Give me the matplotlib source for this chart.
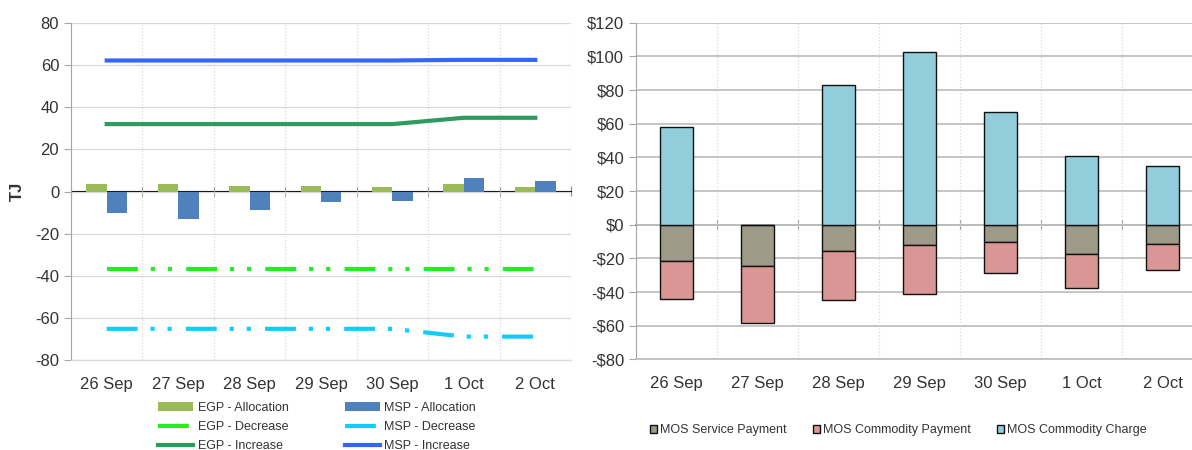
import numpy as np
import matplotlib
matplotlib.use("Agg")
import matplotlib.pyplot as plt
from matplotlib.ticker import FuncFormatter

plt.rcParams['font.family'] = ['Liberation Sans', 'DejaVu Sans']
plt.rcParams['axes.unicode_minus'] = False

days = ['26 Sep', '27 Sep', '28 Sep', '29 Sep', '30 Sep', '1 Oct', '2 Oct']

# left chart (TJ)
egp_alloc = [3.6, 3.6, 2.4, 2.7, 1.9, 3.6, 1.9]
msp_alloc = [-10.2, -12.9, -8.6, -5.2, -4.4, 6.2, 4.9]
egp_dec = [-37, -37, -37, -37, -37, -37, -37]
msp_dec = [-65.2, -65.2, -65.2, -65.2, -65.2, -68.9, -68.9]
egp_inc = [32, 32, 32, 32, 32, 35, 35]
msp_inc = [62.2, 62.2, 62.2, 62.2, 62.2, 62.5, 62.5]

# right chart ($)
mos_service = [-21.4, -24.8, -15.6, -12.3, -10.5, -17.2, -11.3]
mos_comm_pay = [-23.0, -33.4, -29.2, -29.1, -18.2, -20.2, -15.8]
mos_comm_charge = [58.0, 0, 82.8, 102.6, 66.7, 40.6, 34.9]

txt = '#333333'
x = np.arange(len(days))
bounds = np.arange(len(days) + 1) - 0.5

fig = plt.figure(figsize=(11.92, 4.5), dpi=100)
ax1 = fig.add_axes([71 / 1192, 90 / 450, 500 / 1192, 337 / 450])
ax2 = fig.add_axes([636 / 1192, 90.6 / 450, 567 / 1192, 336.7 / 450])

# ---- left ----
w = 0.286
b1 = ax1.bar(x - w / 2, egp_alloc, w, color='#9BBB59', label='EGP - Allocation', zorder=2)
b2 = ax1.bar(x + w / 2, msp_alloc, w, color='#4F81BD', label='MSP - Allocation', zorder=2)
dash = (0, (7.4, 3.1, 1, 3.1, 1, 3.4))
l1, = ax1.plot(x, egp_dec, color='#22EE22', lw=3, ls=dash, dash_capstyle='butt', label='EGP - Decrease', zorder=3)
l2, = ax1.plot(x, msp_dec, color='#11CCFF', lw=3, ls=dash, dash_capstyle='butt', label='MSP - Decrease', zorder=3)
l3, = ax1.plot(x, egp_inc, color='#2E9B5E', lw=3, label='EGP - Increase', zorder=3)
l4, = ax1.plot(x, msp_inc, color='#3366FF', lw=3, label='MSP - Increase', zorder=3)

ax1.set_xlim(-0.5, 6.5)
ax1.set_ylim(-80, 80)
ax1.set_yticks(range(-80, 81, 20))
ax1.set_ylabel('TJ', fontsize=12, fontweight='bold', color=txt, labelpad=7)

handles = [b1, l1, l3, b2, l2, l4]
fig.legend(handles, [h.get_label() for h in handles], ncol=2, loc='center',
           bbox_to_anchor=(317 / 1192, 1 - 427 / 450), frameon=False, fontsize=9,
           handlelength=2.8, handletextpad=0.35, columnspacing=4.5, labelspacing=0.55,
           labelcolor=txt)

# ---- right ----
bw = 0.41
ax2.bar(x, mos_service, bw, color='#9E9A88', edgecolor='#111111', lw=1, label='MOS Service Payment', zorder=2)
ax2.bar(x, mos_comm_pay, bw, bottom=mos_service, color='#DA9694', edgecolor='#111111', lw=1,
        label='MOS Commodity Payment', zorder=2)
ax2.bar(x, mos_comm_charge, bw, color='#92CDDC', edgecolor='#111111', lw=1, label='MOS Commodity Charge', zorder=2)

ax2.set_xlim(-0.5, 6.5)
ax2.set_ylim(-80, 120)
ax2.set_yticks(range(-80, 121, 20))
ax2.yaxis.set_major_formatter(FuncFormatter(lambda v, p: ('-$%d' % -v) if v < 0 else '$%d' % v))
ax2.legend(loc='center', bbox_to_anchor=(898 / 1192, 1 - 430 / 450), bbox_transform=fig.transFigure,
           ncol=3, frameon=False, fontsize=9, handlelength=0.6, handleheight=0.6,
           handletextpad=0.2, columnspacing=2.1, labelcolor=txt)

for ax, gcol, glw, zfrac in [(ax1, '#D9D9D9', 0.9, 0.5), (ax2, '#C0C0C0', 1.3, 0.4)]:
    ax.set_xticks(x)
    ax.set_xticklabels(days)
    ax.set_xticks(bounds, minor=True)
    ax.tick_params(axis='x', which='both', length=0, labelsize=12, labelcolor=txt, pad=12)
    ax.tick_params(axis='y', length=5, color='#A6A6A6', labelsize=12, labelcolor=txt)
    ax.grid(axis='y', color=gcol, lw=glw, zorder=0)
    ax.grid(axis='x', which='minor', color='#D9D9D9', ls=':', lw=0.9, zorder=0)
    ax.set_axisbelow(True)
    for s in ['top', 'right']:
        ax.spines[s].set_visible(False)
    ax.spines['left'].set_color('#A6A6A6')
    ax.spines['bottom'].set_color(gcol)
    ax.spines['bottom'].set_linewidth(glw)
    # zero axis line with tick marks at category boundaries
    sec = ax.secondary_xaxis(zfrac)
    sec.set_xticks(bounds)
    sec.set_xticklabels([])
    sec.tick_params(direction='inout', length=7, color='#888888')
    sec.spines['bottom'].set_color('#888888')
    sec.spines['bottom'].set_linewidth(1.2)

fig.savefig('out.png', dpi=100)
